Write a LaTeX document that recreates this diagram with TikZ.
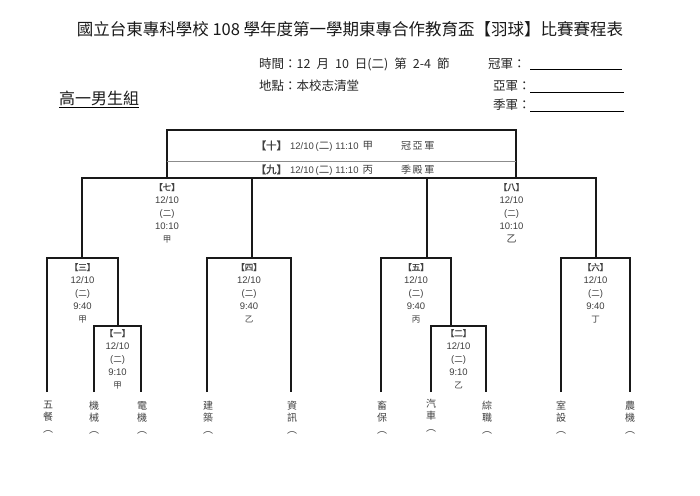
\documentclass[tikz,border=0pt]{standalone}
\usepackage{fontspec}
\setmainfont[AutoFakeBold=1.6]{Noto Sans CJK TC}
\newfontfamily\lat{Liberation Sans}
\newcommand{\nm}[1]{{\lat\fontsize{9.5}{13}\selectfont #1}}
\newcommand{\dy}{\nm{(}二\nm{)}}
\newcommand{\lb}[1]{{\bfseries【#1】}}
\tikzset{
  ln/.style={line width=1.3pt, draw=black!90, line join=miter},
  thin/.style={line width=0.6pt, draw=black!45},
  ttl/.style={font=\fontsize{16.5}{18}\selectfont, inner sep=0pt, text=black!90},
  hdr/.style={font=\fontsize{12.5}{14}\selectfont, inner sep=0pt, anchor=west, text=black!85},
  grp/.style={font=\fontsize{16}{18}\selectfont, inner sep=0pt, anchor=west, text=black!90},
  match/.style={font=\fontsize{8.5}{13}\selectfont, inner sep=0pt, align=center, anchor=north, text=black!75},
  fin/.style={font=\fontsize{9}{10}\selectfont, inner sep=0pt, text=black!75},
  team/.style={font=\fontsize{10}{12}\selectfont, inner sep=0pt, align=center, anchor=north, text=black!75}
}
\begin{document}
\begin{tikzpicture}[x=1pt,y=-1pt]
\useasboundingbox (0,0) rectangle (700,495);
\fill[white] (0,0) rectangle (700,495);

% title and header
\node[ttl] (title) at (350,29) {國立台東專科學校 108 學年度第一學期東專合作教育盃【羽球】比賽賽程表};
\node[hdr] (time) at (259,64) {時間：12\hspace{6pt}月\hspace{6pt}10\hspace{6pt}日(二)\hspace{6pt}第\hspace{6pt}2-4\hspace{6pt}節};
\node[hdr] (place) at (259,86) {地點：本校志清堂};
\node[hdr] (c1) at (488,64) {冠軍：};
\node[hdr] (c2) at (493,86) {亞軍：};
\node[hdr] (c3) at (493,105) {季軍：};
\coordinate (c1a) at (530,69); \coordinate (c1b) at (622,69);
\coordinate (c2a) at (530,92); \coordinate (c2b) at (624,92);
\coordinate (c3a) at (530,111); \coordinate (c3b) at (624,111);
\draw[line width=0.6pt] (c1a) -- (c1b);
\draw[line width=0.6pt] (c2a) -- (c2b);
\draw[line width=0.6pt] (c3a) -- (c3b);
\node[grp] (grp) at (59,98) {高一男生組};
\draw[line width=0.8pt] ([yshift=-2pt]grp.south west) -- ([yshift=-2pt]grp.south east);

% final box
\draw[ln] (167,178) -- (167,130) -- (516,130) -- (516,178);
\draw[thin] (167,161) -- (516,161);
\node[fin] (m10) at (345,146) {\fontsize{10.5}{10}\selectfont\lb{十}\hspace{3pt}\nm{12/10}\,\nm{(}二\nm{)}\hspace{3pt}\nm{11:10}\hspace{4pt}甲\hspace{28pt}{\fontsize{10}{10}\selectfont 冠\,亞\,軍}};
\node[fin] (m9) at (345,170) {\fontsize{10.5}{10}\selectfont\lb{九}\hspace{3pt}\nm{12/10}\,\nm{(}二\nm{)}\hspace{3pt}\nm{11:10}\hspace{4pt}丙\hspace{28pt}{\fontsize{10}{10}\selectfont 季\,殿\,軍}};

% semifinals
\draw[ln] (82,258) -- (82,178) -- (596,178) -- (596,258);
\draw[ln] (252,178) -- (252,258);
\draw[ln] (427,178) -- (427,258);
\node[match] (m7) at (167,183) {\lb{七}\\\nm{12/10}\\\dy\\\nm{10:10}\\甲};
\node[match] (m8) at (511.5,183) {\lb{八}\\\nm{12/10}\\\dy\\\nm{10:10}\\{\fontsize{10}{13}\selectfont 乙}};

% quarterfinals
\draw[ln] (47,392) -- (47,258) -- (118,258) -- (118,326);
\draw[ln] (94,392) -- (94,326) -- (141,326) -- (141,392);
\draw[ln] (207,392) -- (207,258) -- (291,258) -- (291,392);
\draw[ln] (381,392) -- (381,258) -- (451,258) -- (451,326);
\draw[ln] (431,392) -- (431,326) -- (486,326) -- (486,392);
\draw[ln] (561,392) -- (561,258) -- (630,258) -- (630,392);
\node[match] (m3) at (82.5,263) {\lb{三}\\\nm{12/10}\\\dy\\\nm{9:40}\\甲};
\node[match] (m4) at (249,263) {\lb{四}\\\nm{12/10}\\\dy\\\nm{9:40}\\乙};
\node[match] (m5) at (416,263) {\lb{五}\\\nm{12/10}\\\dy\\\nm{9:40}\\丙};
\node[match] (m6) at (595.5,263) {\lb{六}\\\nm{12/10}\\\dy\\\nm{9:40}\\丁};
\node[match] (m1) at (117.5,329) {\lb{一}\\\nm{12/10}\\\dy\\\nm{9:10}\\甲};
\node[match] (m2) at (458.5,329) {\lb{二}\\\nm{12/10}\\\dy\\\nm{9:10}\\乙};

% teams
\node[team] (t1) at (48,401) {五\\餐\\︵};
\node[team] (t2) at (94,401) {機\\械\\︵};
\node[team] (t3) at (142,401) {電\\機\\︵};
\node[team] (t4) at (208,401) {建\\築\\︵};
\node[team] (t5) at (292,401) {資\\訊\\︵};
\node[team] (t6) at (382,401) {畜\\保\\︵};
\node[team] (t7) at (431,399) {汽\\車\\︵};
\node[team] (t8) at (487,401) {綜\\職\\︵};
\node[team] (t9) at (561,401) {室\\設\\︵};
\node[team] (t10) at (630,401) {農\\機\\︵};
\end{tikzpicture}
\end{document}
